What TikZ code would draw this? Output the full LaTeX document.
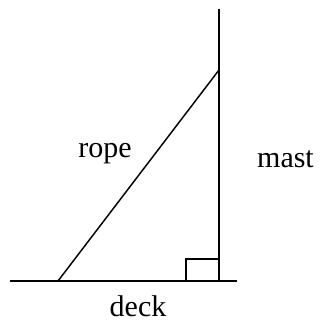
\documentclass[tikz,border=0pt]{standalone}
\usepackage{fontspec}
\setmainfont{Liberation Serif}
\begin{document}
\begin{tikzpicture}[x=0.75pt,y=-0.75pt,
  ln/.style={line width=1.1pt,black},
  lbl/.style={anchor=base,inner sep=0pt,font=\fontsize{22.5}{27}\selectfont}]
\useasboundingbox (0,0) rectangle (321,322);
\coordinate (deckL) at (10,281);
\coordinate (deckR) at (237,281);
\coordinate (mastTop) at (219,9);
\coordinate (mastBot) at (219,281);
\coordinate (ropeBot) at (58,281);
\coordinate (ropeTop) at (219,70);
\coordinate (sqA) at (186,281);
\coordinate (sqB) at (186,259);
\coordinate (sqC) at (219,259);
\draw[ln] (deckL) -- (deckR);
\draw[ln] (mastTop) -- (mastBot);
\draw[ln] (ropeBot) -- (ropeTop);
\draw[ln] (sqA) -- (sqB) -- (sqC);
\node[lbl] (rope) at (105,157) {rope};
\node[lbl] (mast) at (285.5,167) {mast};
\node[lbl] (deck) at (138,316) {deck};
\end{tikzpicture}
\end{document}
